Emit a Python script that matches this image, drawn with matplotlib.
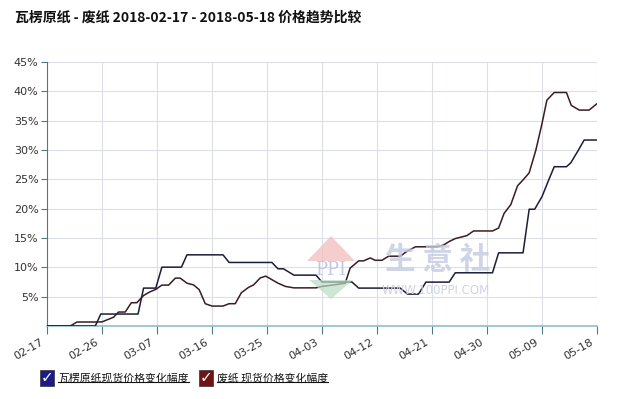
import matplotlib
matplotlib.use("Agg")
import matplotlib.pyplot as plt
from matplotlib.lines import Line2D
from matplotlib.patches import Rectangle, Polygon

plt.rcParams['font.family'] = ['Noto Sans CJK SC', 'DejaVu Sans']

# days after 2018-02-17
tick_days = [0, 9, 18, 27, 36, 45, 54, 63, 72, 81, 90]
tick_labels = ['02-17', '02-26', '03-07', '03-16', '03-25', '04-03',
               '04-12', '04-21', '04-30', '05-09', '05-18']

# 瓦楞原纸 (corrugated paper)
wl_days = [0, 7.9, 8.8, 14.9, 15.8, 17.8, 18.8, 22, 22.9, 28.8, 29.8, 36.8, 37.8,
           38.7, 40.4, 44, 45, 49.9, 51, 57.8, 59, 60.8, 62, 65.8, 66.8, 72.9,
           73.9, 77.9, 78.9, 79.8, 81, 82.1, 83, 85, 85.7, 86.8, 87.9, 90]
wl_vals = [0, 0, 2.04, 2.04, 6.46, 6.46, 10.03, 10.03, 12.13, 12.13, 10.83, 10.83, 9.75,
           9.75, 8.67, 8.67, 7.5, 7.5, 6.46, 6.46, 5.44, 5.44, 7.48, 7.48, 9.07, 9.07,
           12.47, 12.47, 19.9, 19.9, 22.05, 24.9, 27.15, 27.15, 27.8, 29.7, 31.7, 31.7]

# 废纸 (waste paper)
fz_days = [0, 3.8, 4.9, 7.9, 9, 10.9, 11.7, 12.8, 13.8, 14.7, 15.8, 16.8, 17.8, 18.8,
           19.9, 21, 21.8, 22.9, 24, 24.9, 25.9, 27, 28.8, 29.8, 30.8, 31.8, 33, 33.8,
           34.9, 35.8, 36.8, 37.8, 39, 40.4, 44, 45, 46.9, 48.8, 49.6, 51, 51.8, 52.9,
           53.7, 54.8, 55.9, 57.8, 59, 60.3, 63.8, 64.9, 65.8, 66.8, 68.7, 69.8, 72.9,
           73.9, 74.8, 75.9, 77, 77.9, 78.9, 80, 81, 81.8, 83, 85, 85.8, 87.1, 88.7, 90]
fz_vals = [0, 0, 0.68, 0.68, 0.7, 1.5, 2.38, 2.38, 3.97, 3.97, 5.2, 5.8, 6.24, 6.97,
           6.97, 8.16, 8.16, 7.3, 7.0, 6.2, 3.8, 3.4, 3.4, 3.8, 3.8, 5.67, 6.6, 7.0,
           8.2, 8.5, 7.9, 7.3, 6.75, 6.5, 6.5, 6.75, 7.0, 7.3, 9.86, 11.1, 11.1, 11.6,
           11.2, 11.2, 11.9, 11.9, 12.8, 13.5, 13.5, 13.8, 14.4, 14.9, 15.4, 16.2, 16.2,
           16.7, 19.2, 20.7, 23.9, 24.9, 26.1, 30.0, 34.5, 38.5, 39.8, 39.8, 37.6, 36.8,
           36.8, 37.9]

y_ticks = [5, 10, 15, 20, 25, 30, 35, 40, 45]

W, H = 620, 399
fig = plt.figure(figsize=(6.2, 3.99), dpi=100)
ax = fig.add_axes([47/W, 1-326/H, 550/W, 264/H])

ax.plot(wl_days, wl_vals, color="#1c1c3c", linewidth=1.1, zorder=3)
ax.plot(fz_days, fz_vals, color="#3a1c22", linewidth=1.1, zorder=3)

ax.set_xlim(0, 90)
ax.set_ylim(0, 45)
ax.set_xticks(tick_days)
ax.set_xticklabels([])
# rotated date labels, set a little left of and below each tick
for d, lab in zip(tick_days, tick_labels):
    ax.annotate(lab, xy=(d, 0), xycoords=('data', 'axes fraction'),
                xytext=(-5, -8), textcoords='offset points', rotation=30,
                ha='right', va='top', rotation_mode='anchor', fontsize=8,
                color='#333333', family='DejaVu Sans', annotation_clip=False)
ax.set_yticks(y_ticks)
ax.set_yticklabels([str(v) + '%' for v in y_ticks], fontsize=8, color='#333333',
                   family='DejaVu Sans')
ax.grid(True, color='#dcdfe3', linewidth=0.8)
ax.set_axisbelow(True)

ax.spines['top'].set_visible(False)
ax.spines['right'].set_visible(False)
ax.spines['left'].set_color('#4d7a86')
ax.spines['bottom'].set_color('#8cc0c8')
ax.spines['bottom'].set_linewidth(1.2)
ax.tick_params(axis='x', length=6, color='#4d7a86', pad=4)
ax.tick_params(axis='y', length=4, color='#4d7a86', pad=2)


def fx(px):
    return px / W


def fy(py):
    return 1 - py / H


# watermark (100ppi logo)
fig.patches.append(Polygon([(fx(331), fy(236)), (fx(307), fy(261)), (fx(355), fy(261))],
                           closed=True, transform=fig.transFigure,
                           facecolor='#f3b9b9', alpha=0.7, zorder=1))
fig.patches.append(Polygon([(fx(331), fy(299)), (fx(309), fy(280)), (fx(353), fy(280))],
                           closed=True, transform=fig.transFigure,
                           facecolor='#b9dcc4', alpha=0.7, zorder=1))
fig.text(fx(331), fy(270), 'PPI', fontsize=13, color='#b4bbe0', alpha=0.8,
         family='DejaVu Serif', ha='center', va='center')
fig.text(fx(438), fy(260), '生 意 社', fontsize=22, color='#c3cbe0', alpha=0.8,
         weight='bold', ha='center', va='center')
fig.text(fx(436), fy(291), 'WWW.100PPI.COM', fontsize=8.5, color='#d0d4de',
         family='DejaVu Sans', ha='center', va='center')

# title
fig.text(fx(15), fy(18), '瓦楞原纸 - 废纸 2018-02-17 - 2018-05-18 价格趋势比较',
         fontsize=10, weight='bold', color='#111111', va='center')

# legend with checkboxes
legend_items = [('瓦楞原纸现货价格变化幅度', '#1b1b8c', 40),
                ('废纸 现货价格变化幅度', '#6e1414', 199)]
fig.canvas.draw()
renderer = fig.canvas.get_renderer()
for label, col, xpix in legend_items:
    yc = fy(378)
    fig.patches.append(Rectangle((fx(xpix), yc - 8/H), 14/W, 16/H,
                                 transform=fig.transFigure, facecolor=col,
                                 edgecolor='#333333', linewidth=0.5))
    fig.text(fx(xpix + 7), yc + 0.5/H, '✓', fontsize=11, color='white',
             weight='bold', ha='center', va='center', family='DejaVu Sans')
    t = fig.text(fx(xpix + 18), yc, label, fontsize=7.8, color='#111111', va='center')
    bb = t.get_window_extent(renderer)
    x0, x1 = bb.x0 / fig.bbox.width, bb.x1 / fig.bbox.width
    yl = (bb.y0 + 1) / fig.bbox.height
    fig.lines.append(Line2D([x0, x1], [yl, yl], transform=fig.transFigure,
                            color='#111111', linewidth=0.8))

fig.savefig("out.png", dpi=100)
